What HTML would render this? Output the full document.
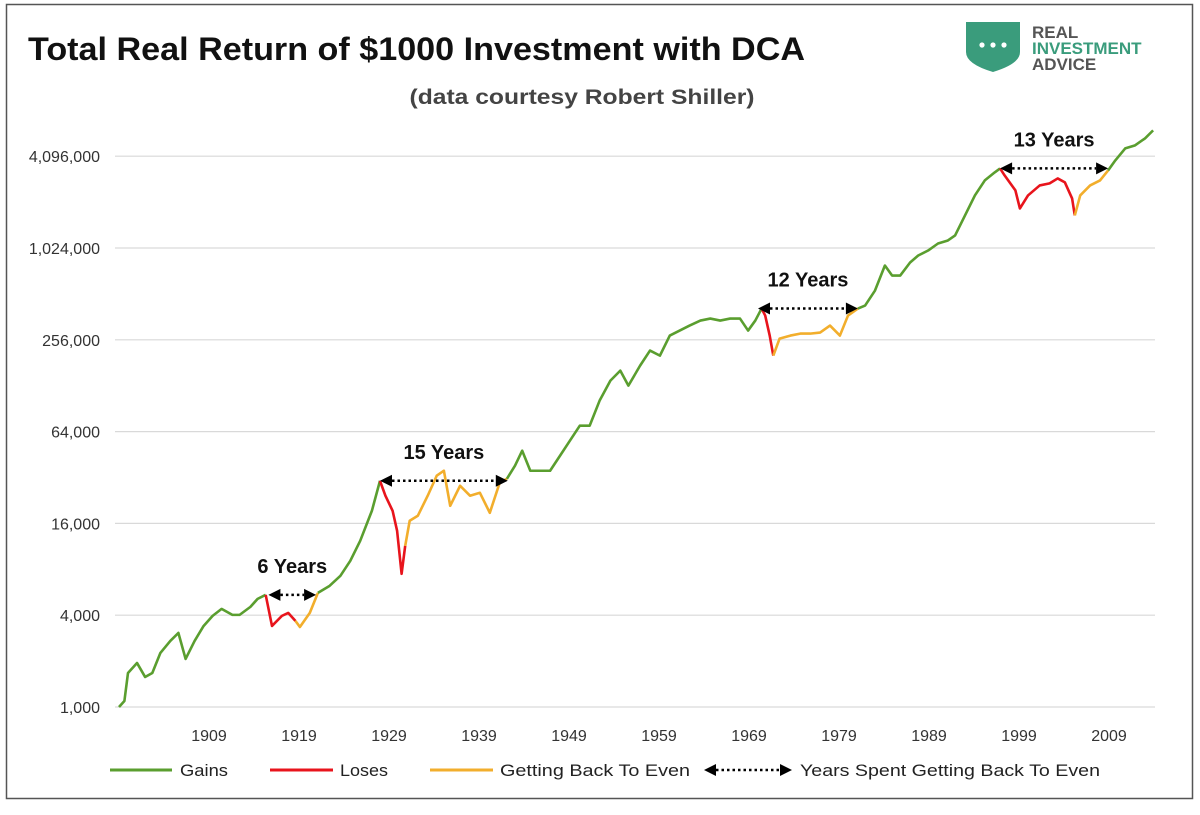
<!DOCTYPE html>
<html><head><meta charset="utf-8">
<style>
body{margin:0;background:#fff;width:1200px;height:810px;overflow:hidden;font-family:"Liberation Sans",sans-serif;}
svg text{font-family:"Liberation Sans",sans-serif;}
</style></head>
<body>
<svg id="chart" width="1200" height="810" xmlns="http://www.w3.org/2000/svg">
<rect x="6.5" y="4.5" width="1186" height="794" fill="#fff" stroke="#555" stroke-width="1.5"/>
<text x="28" y="60" font-size="32" font-weight="bold" fill="#111" textLength="777" lengthAdjust="spacingAndGlyphs">Total Real Return of $1000 Investment with DCA</text>
<text x="582" y="104" font-size="21" font-weight="bold" fill="#444" text-anchor="middle" textLength="345" lengthAdjust="spacingAndGlyphs">(data courtesy Robert Shiller)</text>
<g>
<path d="M966 22 L1020 22 L1020 52 Q1020 64 993 72 Q966 64 966 52 Z" fill="#3a9c7c"/>
<circle cx="982" cy="45" r="2.6" fill="#fff"/><circle cx="993" cy="45" r="2.6" fill="#fff"/><circle cx="1004" cy="45" r="2.6" fill="#fff"/>
<text x="1032" y="38" font-size="17" font-weight="bold" fill="#555">REAL</text>
<text x="1032" y="54" font-size="17" font-weight="bold" fill="#3a9c7c">INVESTMENT</text>
<text x="1032" y="70" font-size="17" font-weight="bold" fill="#555">ADVICE</text>
</g>
<g id="grid"></g><g id="ylabels"></g><g id="xlabels"></g><g id="series"></g><g id="annots"></g>
<g font-size="17" fill="#222">
<g><line x1="110" y1="770" x2="172" y2="770" stroke="#5a9e2f" stroke-width="3"/><text x="180" y="776" textLength="48" lengthAdjust="spacingAndGlyphs">Gains</text></g>
<g><line x1="270" y1="770" x2="333" y2="770" stroke="#e8141c" stroke-width="3"/><text x="340" y="776" textLength="48" lengthAdjust="spacingAndGlyphs">Loses</text></g>
<g><line x1="430" y1="770" x2="493" y2="770" stroke="#f2ae2c" stroke-width="3"/><text x="500" y="776" textLength="190" lengthAdjust="spacingAndGlyphs">Getting Back To Even</text></g>
<g><line x1="716" y1="770" x2="780" y2="770" stroke="#000" stroke-width="2.5" stroke-dasharray="2.5,3"/><path d="M704 770 L716 764 L716 776 Z M792 770 L780 764 L780 776 Z" fill="#000"/><text x="800" y="776" textLength="300" lengthAdjust="spacingAndGlyphs">Years Spent Getting Back To Even</text></g>
</g>
</svg>
<script>
const years=[1899,1899.6,1900,1901,1901.9,1902.7,1903.6,1904.7,1905.6,1906.4,1907.4,1908.4,1909.4,1910.4,1911.6,1912.4,1913.6,1914.4,1915.3,
1916,1917.1,1917.8,1918.6,
1919.1,1920.2,1921.1,
1922.4,1923.6,1924.7,1925.8,1927.1,1928,
1928.6,1929.4,1929.9,1930.4,1930.8,
1931.3,1932.2,1933.3,1934.3,1935.1,1935.8,1936.9,1938,1939.1,1940.2,1941.3,1942.1,
1943,1943.8,1944.7,1945.8,1946.9,1948,1949.1,1950.2,1951.3,1952.4,1953.6,1954.7,1955.6,1956.9,1958,1959.1,1960.2,1961.3,1962.4,1963.6,1964.7,1965.8,1966.9,1968,1968.9,1969.7,1970.4,
1970.8,1971.3,1971.7,
1972.4,1973.6,1974.7,1975.8,1976.9,1978,1979.1,1980,1981.1,
1981.9,1983,1984.1,1984.9,1985.8,1986.9,1987.8,1988.9,1990,1991.1,1991.9,1993,1994.1,1995.2,1996.3,1996.9,
1997.4,1998.6,1999.1,2000,2001.3,2002.4,2003.3,2004.1,2004.9,2005.2,
2005.8,2006.9,2008,2008.9,
2009.7,2010.8,2011.9,2013,2013.9];
const values=[1000,1095,1672,1945,1574,1672,2263,2713,3060,2066,2713,3400,3960,4400,4020,4020,4535,5120,5440,
3400,3960,4140,3670,
3350,4140,5600,
6230,7250,9090,12300,19360,30460,
24300,19360,14300,7470,11400,
16650,17950,24300,32860,35440,20880,28250,24300,25400,18780,29550,31400,
38220,47940,35440,35440,35440,44450,55800,70000,70000,102100,138200,160700,128100,173300,217500,201600,272900,294300,317400,342300,352700,342300,352700,352700,294300,342300,410400,
369200,272900,201600,
260700,272900,281100,281100,285400,317400,272900,369200,410400,
429400,538700,785800,675600,675600,822600,914000,985800,1096000,1147000,1238000,1674000,2265000,2841000,3207000,3407000,
3064000,2443000,1861000,2265000,2634000,2716000,2928000,2757000,2165000,1674000,
2265000,2634000,2841000,3304000,
3843000,4608000,4824000,5360000,6050000];
const phaseRuns=[["G",19],["R",4],["O",3],["G",6],["R",5],["O",12],["G",27],["R",3],["O",9],["G",16],["R",10],["O",4],["G",5]];
const yTicks=[1000,4000,16000,64000,256000,1024000,4096000];
const yTickLabels=["1,000","4,000","16,000","64,000","256,000","1,024,000","4,096,000"];
const xTicks=[1909,1919,1929,1939,1949,1959,1969,1979,1989,1999,2009];
const annotLabels=["6 Years","15 Years","12 Years","13 Years"];
const annotStart=[1915.6,1928,1970,1996.9];
const annotEnd=[1920.9,1942.2,1981.1,2008.9];
const annotValue=[5440,30460,410400,3407000];

const phase=[];phaseRuns.forEach(r=>{for(let k=0;k<r[1];k++)phase.push(r[0]);});
const NS="http://www.w3.org/2000/svg";
const X0=115,X1=1155;
const xs=y=>119+(y-1899)*9;
const ys=v=>707-Math.log(v/1000)/Math.log(4)*91.8;
function mk(tag,attrs,parent,txt){const e=document.createElementNS(NS,tag);for(const k in attrs)e.setAttribute(k,attrs[k]);if(txt!==undefined)e.textContent=txt;parent.appendChild(e);return e;}
const grid=document.getElementById('grid'),yl=document.getElementById('ylabels'),xl=document.getElementById('xlabels'),ser=document.getElementById('series'),an=document.getElementById('annots');
yTicks.forEach((t,i)=>{
 const l=mk('line',{x1:X0,x2:X1,y1:ys(t),y2:ys(t),stroke:'#d9d9d9','stroke-width':1.2},grid);
 
 
 const tx=mk('text',{x:100,y:ys(t)+6,'font-size':16,'text-anchor':'end',fill:'#333'},yl,yTickLabels[i]);
 
 
});
xTicks.forEach(t=>{
 const tx=mk('text',{x:xs(t),y:741,'font-size':16,'text-anchor':'middle',fill:'#333'},xl,String(t));
 
 
});
const colors={G:'#5a9e2f',R:'#e8141c',O:'#f2ae2c'};
let i=0;
while(i<years.length-1){
 const c=phase[i+1];let pts=[[xs(years[i]),ys(values[i])]];let j=i+1;
 while(j<years.length&&phase[j]===c){pts.push([xs(years[j]),ys(values[j])]);j++;}
 const p=mk('polyline',{points:pts.map(p=>p.join(',')).join(' '),fill:'none',stroke:colors[c],'stroke-width':2.6,'stroke-linejoin':'round'},ser);
 
 
 i=j-1;
}
annotLabels.forEach((lab,k)=>{
 const a=xs(annotStart[k]),b=xs(annotEnd[k]),y=ys(annotValue[k]);
 const g=mk('g',{},an);
 
 
 mk('line',{x1:a+12,x2:b-12,y1:y,y2:y,stroke:'#000','stroke-width':2.5,'stroke-dasharray':'2.5,3'},g);
 mk('path',{d:`M${a} ${y} L${a+12} ${y-6} L${a+12} ${y+6} Z M${b} ${y} L${b-12} ${y-6} L${b-12} ${y+6} Z`,fill:'#000'},g);
 mk('text',{x:(a+b)/2,y:y-22,'font-size':20,'font-weight':'bold','text-anchor':'middle',fill:'#111'},g,lab);
});
</script>
</body></html>
